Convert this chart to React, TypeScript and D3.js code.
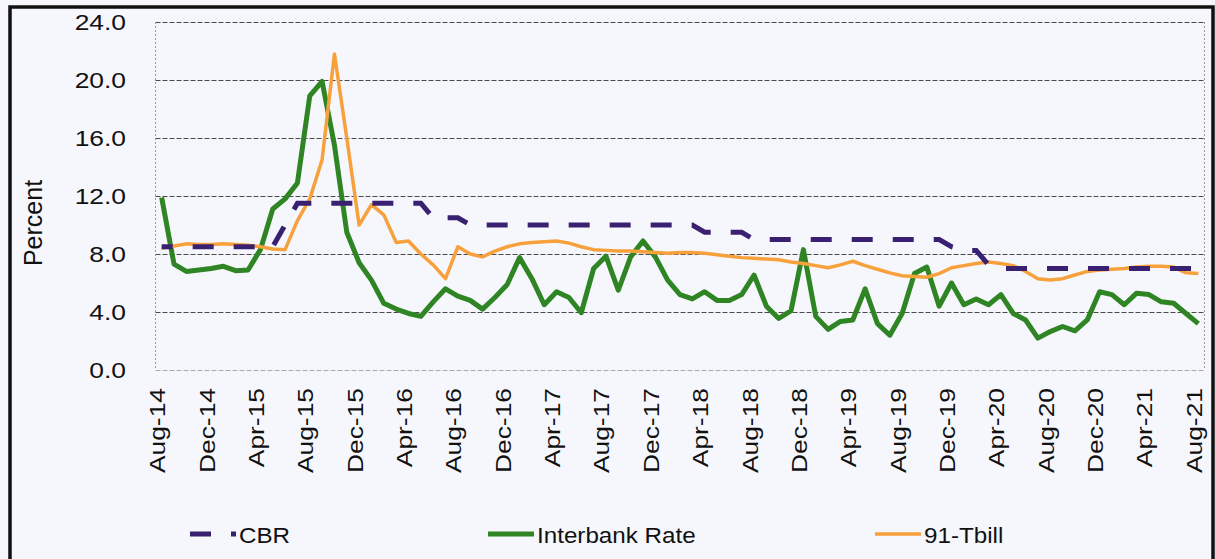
import React, { useEffect, useRef } from 'react';
import * as d3 from 'd3';

// months from Aug-14 to Aug-21 (categories of the x axis)
const months: string[] = d3
  .timeMonths(new Date(2014, 7, 1), new Date(2021, 8, 1))
  .map(d3.timeFormat('%b-%y'));

// labels shown every 4th month
const tickLabels: string[] = [
  'Aug-14', 'Dec-14', 'Apr-15', 'Aug-15', 'Dec-15', 'Apr-16', 'Aug-16', 'Dec-16',
  'Apr-17', 'Aug-17', 'Dec-17', 'Apr-18', 'Aug-18', 'Dec-18', 'Apr-19', 'Aug-19',
  'Dec-19', 'Apr-20', 'Aug-20', 'Dec-20', 'Apr-21', 'Aug-21',
];

const yTicks: number[] = [0, 4, 8, 12, 16, 20, 24];

// Central Bank Rate
const cbr: number[] = [
  8.5, 8.5, 8.5, 8.5, 8.5, 8.5, 8.5, 8.5, 8.5, 8.5,
  10.0, 11.5, 11.5, 11.5, 11.5, 11.5, 11.5, 11.5, 11.5, 11.5,
  11.5, 11.5, 10.5, 10.5, 10.5, 10.0, 10.0, 10.0, 10.0, 10.0,
  10.0, 10.0, 10.0, 10.0, 10.0, 10.0, 10.0, 10.0, 10.0, 10.0,
  10.0, 10.0, 10.0, 10.0, 9.5, 9.5, 9.5, 9.5, 9.0, 9.0,
  9.0, 9.0, 9.0, 9.0, 9.0, 9.0, 9.0, 9.0, 9.0, 9.0,
  9.0, 9.0, 9.0, 9.0, 8.5, 8.25, 8.25, 7.25, 7.0, 7.0,
  7.0, 7.0, 7.0, 7.0, 7.0, 7.0, 7.0, 7.0, 7.0, 7.0,
  7.0, 7.0, 7.0, 7.0, 7.0,
];

// interbank rate
const interbank: number[] = [
  11.9, 7.3, 6.8, 6.9, 7.0, 7.15, 6.85, 6.9, 8.3, 11.1,
  11.8, 12.9, 18.9, 19.9, 15.5, 9.5, 7.4, 6.2, 4.6, 4.2,
  3.9, 3.7, 4.7, 5.6, 5.1, 4.8, 4.2, 5.0, 5.9, 7.75,
  6.3, 4.5, 5.4, 5.0, 3.95, 7.0, 7.85, 5.5, 7.8, 8.9,
  7.8, 6.2, 5.2, 4.9, 5.4, 4.8, 4.8, 5.2, 6.55, 4.4,
  3.55, 4.1, 8.3, 3.7, 2.8, 3.35, 3.45, 5.6, 3.2, 2.4,
  3.9, 6.65, 7.1, 4.4, 6.0, 4.5, 4.9, 4.5, 5.2, 3.9,
  3.45, 2.2, 2.65, 3.0, 2.7, 3.45, 5.4, 5.2, 4.5, 5.3,
  5.2, 4.7, 4.6, 3.9, 3.2,
];

// 91 day treasury bill
const tbill: number[] = [
  8.4, 8.55, 8.7, 8.65, 8.65, 8.7, 8.65, 8.6, 8.5, 8.35,
  8.3, 10.3, 11.8, 14.5, 21.8, 16.0, 10.0, 11.4, 10.7, 8.8,
  8.9, 8.0, 7.25, 6.3, 8.5, 8.0, 7.8, 8.2, 8.5, 8.7,
  8.8, 8.85, 8.9, 8.75, 8.5, 8.3, 8.25, 8.2, 8.2, 8.15,
  8.1, 8.05, 8.1, 8.1, 8.05, 7.95, 7.85, 7.75, 7.7, 7.65,
  7.6, 7.45, 7.35, 7.2, 7.05, 7.25, 7.5, 7.2, 6.95, 6.7,
  6.5, 6.45, 6.4, 6.65, 7.05, 7.2, 7.35, 7.45, 7.35, 7.2,
  6.8, 6.3, 6.2, 6.3, 6.55, 6.8, 6.9, 6.95, 7.0, 7.1,
  7.15, 7.15, 7.1, 6.7, 6.65,
];

const FONT = "'Liberation Sans', Arial, Helvetica, sans-serif";

function App() {
  const ref = useRef<SVGSVGElement>(null);

  useEffect(() => {
    document.body.style.margin = '0';
    const width = 1215, height = 559;
    const svg = d3.select(ref.current);
    svg.selectAll('*').remove();

    // fondo tipo papel escaneado
    svg.append('rect').attr('width', width).attr('height', height).attr('fill', '#f6f7fc');

    // marco negro
    svg.append('path')
      .attr('d', 'M10,570 V7 H1213 V570')
      .attr('fill', 'none').attr('stroke', '#111').attr('stroke-width', 3.5);

    const x = d3.scaleBand<string>().domain(months).range([155.5, 1204.5]);
    const cx = (m: string) => (x(m) as number) + x.bandwidth() / 2;
    const y = d3.scaleLinear().domain([0, 24]).range([370, 22]);

    // grid lines
    svg.append('g').selectAll('line').data(yTicks).enter().append('line')
      .attr('x1', 155.5).attr('x2', 1204.5)
      .attr('y1', (d) => Math.round(y(d)) + 0.5).attr('y2', (d) => Math.round(y(d)) + 0.5)
      .attr('stroke', (d) => (d === 0 ? '#aaa' : '#4a4a4a'))
      .attr('stroke-width', 1).attr('stroke-dasharray', '5,2');

    // left and right border of the plot
    svg.append('g').selectAll('line').data([155.5, 1204.5]).enter().append('line')
      .attr('x1', (d) => d).attr('x2', (d) => d).attr('y1', y(24)).attr('y2', y(0))
      .attr('stroke', '#999').attr('stroke-width', 1).attr('stroke-dasharray', '2,2');

    // y labels
    svg.append('g').selectAll('text').data(yTicks).enter().append('text')
      .attr('transform', (d) => `translate(126,${y(d)}) scale(1.2,1)`)
      .attr('dy', '0.35em').attr('text-anchor', 'end')
      .style('font-family', FONT).style('font-size', '22px').attr('fill', '#111')
      .text((d) => d3.format('.1f')(d));

    svg.append('text')
      .attr('transform', 'translate(42,223) rotate(-90)')
      .attr('text-anchor', 'middle')
      .style('font-family', FONT).style('font-size', '25px').attr('fill', '#111')
      .text('Percent');

    // x labels, rotated
    svg.append('g').selectAll('text').data(tickLabels).enter().append('text')
      .attr('transform', (d) => `translate(${cx(d) + 3.5},388) rotate(-90) scale(1.2,1)`)
      .attr('text-anchor', 'end')
      .style('font-family', FONT).style('font-size', '22px').attr('fill', '#111')
      .text((d) => d);

    const line = d3.line<number>()
      .x((d, i) => cx(months[i]))
      .y((d) => y(d));

    svg.append('path').datum(interbank).attr('d', line)
      .attr('fill', 'none').attr('stroke', '#2f8424').attr('stroke-width', 5)
      .attr('stroke-linejoin', 'round');

    svg.append('path').datum(tbill).attr('d', line)
      .attr('fill', 'none').attr('stroke', '#f7a13c').attr('stroke-width', 3.5)
      .attr('stroke-linejoin', 'round');

    svg.append('path').datum(cbr).attr('d', line)
      .attr('fill', 'none').attr('stroke', '#3a2070').attr('stroke-width', 5)
      .attr('stroke-dasharray', '21,20').attr('stroke-dashoffset', 10);

    // legend
    const legend = [
      { name: 'CBR', color: '#3a2070', w: 5, dash: '21,20', x0: 190 },
      { name: 'Interbank Rate', color: '#2f8424', w: 5, dash: null, x0: 488 },
      { name: '91-Tbill', color: '#f7a13c', w: 3.5, dash: null, x0: 875 },
    ];
    const lg = svg.append('g').selectAll('g').data(legend).enter().append('g');
    lg.append('line')
      .attr('x1', (d) => d.x0).attr('x2', (d) => d.x0 + 46)
      .attr('y1', 534).attr('y2', 534)
      .attr('stroke', (d) => d.color).attr('stroke-width', (d) => d.w)
      .attr('stroke-dasharray', (d) => d.dash);
    lg.append('text')
      .attr('transform', (d) => `translate(${d.x0 + 49},543) scale(1.1,1)`)
      .style('font-family', FONT).style('font-size', '22px').attr('fill', '#111')
      .text((d) => d.name);
  }, []);

  return (
    <div style={{ position: 'fixed', left: 0, top: 0 }}>
      <svg ref={ref} width={1215} height={559} style={{ display: 'block' }} />
    </div>
  );
}

export default App;
